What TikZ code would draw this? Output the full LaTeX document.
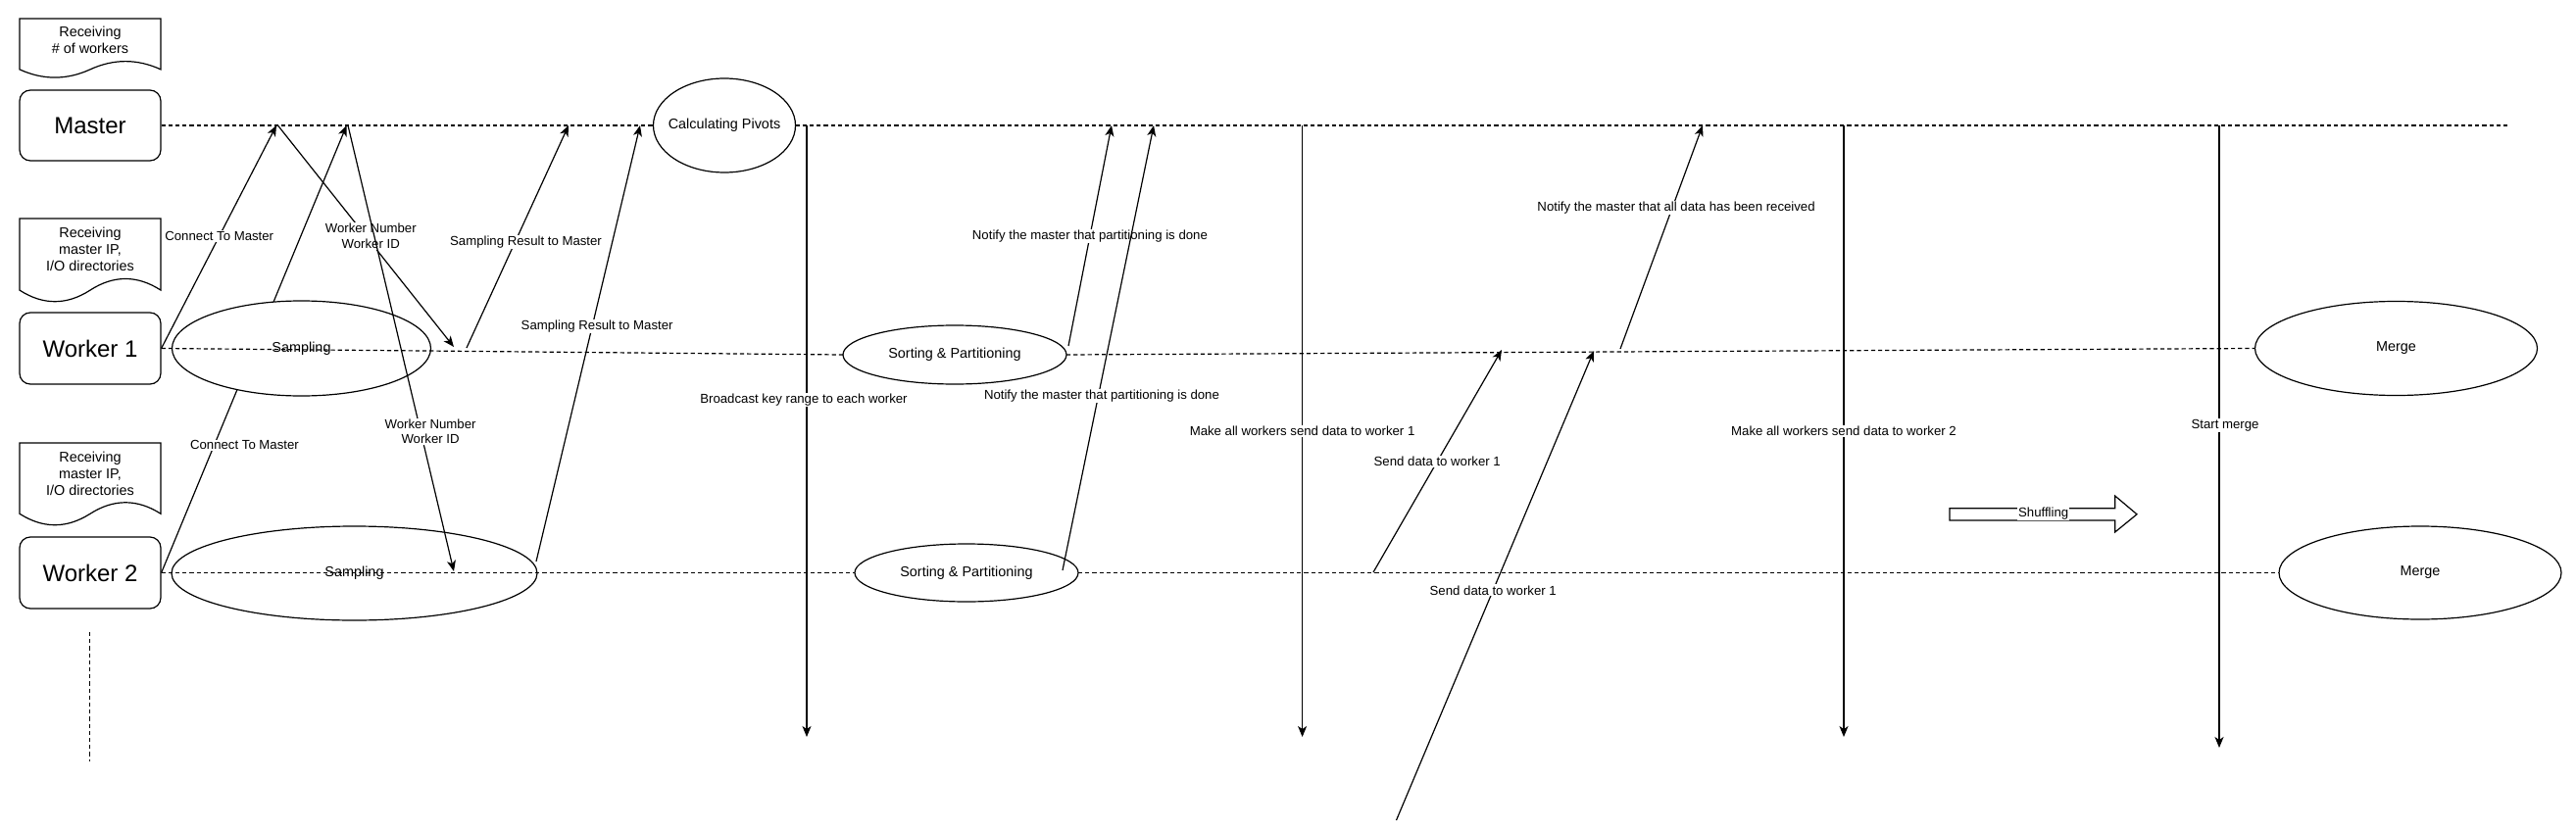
\documentclass[tikz,border=0pt]{standalone}
\usepackage{fontspec}
\setmainfont{Liberation Sans}
\usetikzlibrary{arrows.meta,shapes.geometric}
\tikzset{
  actor/.style={draw, line width=1.2pt, rounded corners=11pt, minimum width=144pt, minimum height=73pt, inner sep=0pt, font=\fontsize{24}{28}\selectfont},
  proc/.style={draw, line width=1.2pt, ellipse, fill=white, inner sep=0pt, outer sep=0pt, font=\fontsize{14.4}{17}\selectfont},
  life/.style={line width=1.2pt, dash pattern=on 4.2pt off 3pt},
  msg/.style={line width=1.2pt, -{Stealth[length=11pt,width=9pt,inset=3pt]}},
  lbl/.style={fill=white, inner sep=1pt, font=\fontsize{13.2}{15.5}\selectfont, align=center},
  doctext/.style={align=center, font=\fontsize{14.4}{17}\selectfont, inner sep=0pt},
  docshape/.style={draw, line width=1.2pt, fill=white},
}
\begin{document}
\begin{tikzpicture}[x=1pt,y=-1pt]
\useasboundingbox (0,0) rectangle (2628,848);

% ---------- document shapes ----------
\draw[docshape] (20,19) -- (164,19) -- (164,70.85)
  .. controls (140,59.87) and (116,59.87) .. (92,70.85)
  .. controls (68,81.83) and (44,81.83) .. (20,70.85) -- cycle;
\node[doctext] (d1) at (92,41) {Receiving\\\# of workers};

\draw[docshape] (20,223) -- (164,223) -- (164,296.1)
  .. controls (140,280.62) and (116,280.62) .. (92,296.1)
  .. controls (68,311.58) and (44,311.58) .. (20,296.1) -- cycle;
\node[doctext] (d2) at (92,254) {Receiving\\master IP,\\I/O directories};

\draw[docshape] (20,452) -- (164,452) -- (164,524.25)
  .. controls (140,508.95) and (116,508.95) .. (92,524.25)
  .. controls (68,539.55) and (44,539.55) .. (20,524.25) -- cycle;
\node[doctext] (d3) at (92,483) {Receiving\\master IP,\\I/O directories};

% ---------- actors ----------
\node[actor, minimum height=72pt] (master) at (92,128) {Master};
\node[actor] (w1) at (92,355.5) {Worker 1};
\node[actor] (w2) at (92,584.5) {Worker 2};

% ---------- coordinates on lifelines ----------
\coordinate (m1) at (282,128);
\coordinate (m2) at (283.5,128);
\coordinate (m3) at (353.6,128);
\coordinate (m4) at (355,128);
\coordinate (m5) at (580,128);
\coordinate (m6) at (653,128);
\coordinate (m7) at (1134,128);
\coordinate (m8) at (1177,128);
\coordinate (m9) at (1737,128);
\coordinate (mend) at (2560,128);
\coordinate (v1) at (823,128);   \coordinate (v1b) at (823,752);
\coordinate (v2) at (1328.6,128);\coordinate (v2b) at (1328.6,752);
\coordinate (v3) at (1881,128);  \coordinate (v3b) at (1881,752);
\coordinate (v4) at (2264,128);  \coordinate (v4b) at (2264,763);
\coordinate (a1) at (463,354);
\coordinate (a2) at (476,355);
\coordinate (a3) at (1532,357);
\coordinate (a4) at (1626,358);
\coordinate (a5) at (1653,356);
\coordinate (n1) at (1090,353);
\coordinate (b1) at (463,583);
\coordinate (b2) at (547,573);
\coordinate (b3) at (1084,582);
\coordinate (b4) at (1401,584);
\coordinate (c1) at (1424.5,837);
\coordinate (more1) at (91.5,645);
\coordinate (more2) at (91.5,777);

% worker 2 connects to master (passes behind the first Sampling ellipse)
\draw[msg] (w2.east) -- node[lbl, pos=0.285, xshift=31pt] (l2) {Connect To Master} (m3);

% ---------- process ellipses ----------
\node[proc, minimum width=264pt, minimum height=97pt] (samp1) at (307.5,355.5) {\makebox[0pt]{Sampling}};
\node[proc, minimum width=373pt, minimum height=96pt] (samp2) at (361.5,585) {\makebox[0pt]{Sampling}};
\node[proc, minimum width=145pt, minimum height=96pt] (cp) at (739,128) {\makebox[0pt]{Calculating Pivots}};
\node[proc, minimum width=228pt, minimum height=60pt] (sort1) at (974,362) {\makebox[0pt]{Sorting \& Partitioning}};
\node[proc, minimum width=228pt, minimum height=59pt] (sort2) at (986,584.5) {\makebox[0pt]{Sorting \& Partitioning}};
\node[proc, minimum width=288pt, minimum height=96pt] (merge1) at (2444.5,355.5) {\makebox[0pt]{Merge}};
\node[proc, minimum width=288pt, minimum height=95pt] (merge2) at (2469,584.5) {\makebox[0pt]{Merge}};

% ---------- lifelines ----------
\draw[life] (master.east) -- (cp.west);
\draw[life] (cp.east) -- (mend);
\draw[life] (w1.east) -- (sort1.west);
\draw[life] (sort1.east) -- (merge1.west);
\draw[life] (w2.east) -- (sort2.west);
\draw[life] (sort2.east) -- (merge2.west);
\draw[line width=1pt, dash pattern=on 4.2pt off 3pt] (more1) -- (more2);

% ---------- messages ----------
\draw[msg] (w1.east) -- node[lbl, pos=0.504] (l1) {Connect To Master} (m1);
\draw[msg] (m2) -- node[lbl, pos=0.5, xshift=5pt] (l3) {Worker Number\\Worker ID} (a1);
\draw[msg] (m4) -- node[lbl, pos=0.686, xshift=10pt] (l4) {Worker Number\\Worker ID} (b1);
\draw[msg] (a2) -- node[lbl, pos=0.476, xshift=11pt] (l5) {Sampling Result to Master} (m5);
\draw[msg] (b2) -- node[lbl, pos=0.539, xshift=5pt] (l6) {Sampling Result to Master} (m6);

\draw[msg] (v1) -- node[lbl, pos=0.449, xshift=-3pt] (l7) {Broadcast key range to each worker} (v1b);
\draw[msg] (v2) -- node[lbl, pos=0.5] (l8) {Make all workers send data to worker 1} (v2b);
\draw[msg] (v3) -- node[lbl, pos=0.5] (l9) {Make all workers send data to worker 2} (v3b);
\draw[msg] (v4) -- node[lbl, pos=0.482, xshift=6pt] (l10) {Start merge} (v4b);

\draw[msg] (n1) -- node[lbl, pos=0.498] (l11) {Notify the master that partitioning is done} (m7);
\draw[msg] (b3) -- node[lbl, pos=0.392, xshift=3.5pt] (l12) {Notify the master that partitioning is done} (m8);

\draw[msg] (b4) -- node[lbl, pos=0.498] (l13) {Send data to worker 1} (a3);
\draw[msg] (c1) -- node[lbl, pos=0.49] (l14) {Send data to worker 1} (a4);
\draw[msg] (a5) -- node[lbl, pos=0.632, xshift=4pt] (l15) {Notify the master that all data has been received} (m9);

% ---------- shuffling arrow ----------
\draw[line width=1.2pt, fill=white] (1989,518.7) -- (2157.7,518.7) -- (2157.7,506) -- (2180,524.8)
  -- (2157.7,543) -- (2157.7,531) -- (1989,531) -- cycle;
\node[lbl] (shuf) at (2084.7,524) {Shuffling};

\end{tikzpicture}
\end{document}
